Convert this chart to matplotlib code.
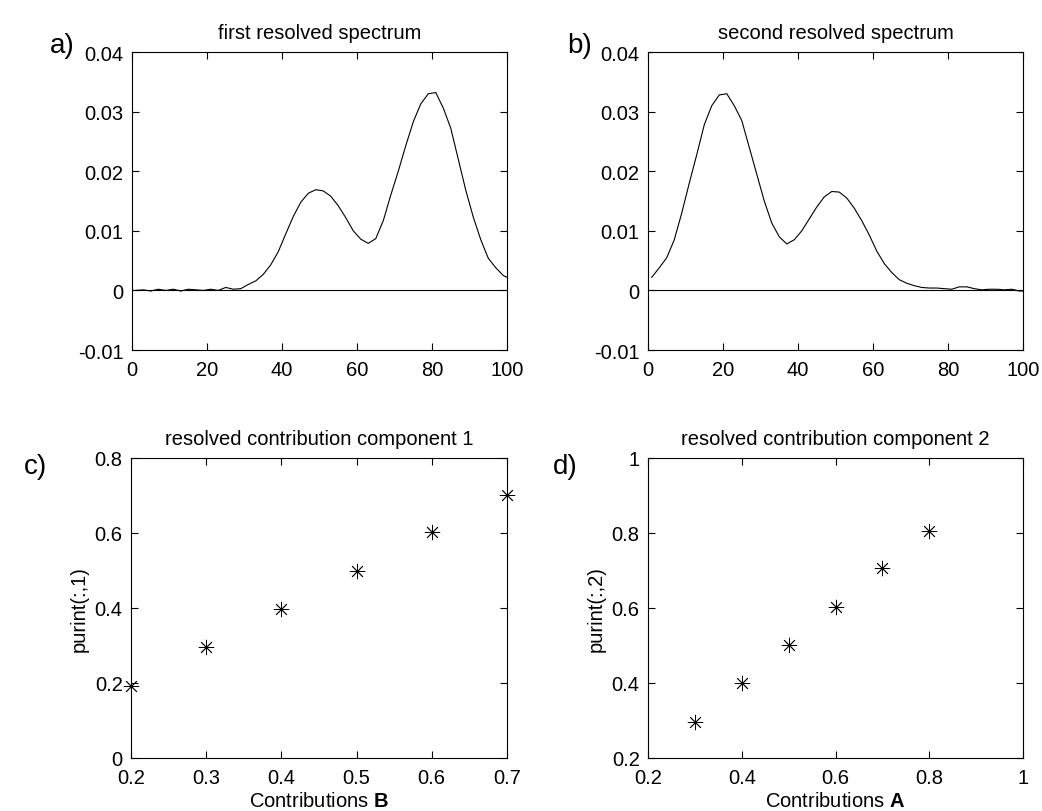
import matplotlib
matplotlib.use("Agg")
from matplotlib import rcParams, pyplot as plt

rcParams['font.family'] = ['Liberation Sans', 'DejaVu Sans']
rcParams['mathtext.fontset'] = 'custom'
rcParams['mathtext.rm'] = 'Liberation Sans'
rcParams['mathtext.bf'] = 'Liberation Sans:bold'

# spectra (channel index vs. intensity)
chan = [1, 3, 5, 7, 9, 11, 13, 15, 17, 19, 21, 23, 25, 27, 29, 31, 33, 35, 37, 39,
        41, 43, 45, 47, 49, 51, 53, 55, 57, 59, 61, 63, 65, 67, 69, 71, 73, 75, 77, 79,
        81, 83, 85, 87, 89, 91, 93, 95, 97, 99, 100]
spec1 = [0.0000, 0.0001, -0.0001, 0.0002, 0.0000, 0.0002, -0.0001, 0.0002, 0.0001, 0.0000,
         0.0002, 0.0000, 0.0005, 0.0002, 0.0003, 0.0010, 0.0016, 0.0027, 0.0043, 0.0065,
         0.0095, 0.0124, 0.0148, 0.0163, 0.0169, 0.0167, 0.0158, 0.0142, 0.0122, 0.0100,
         0.0086, 0.0079, 0.0087, 0.0117, 0.0160, 0.0200, 0.0243, 0.0283, 0.0313, 0.0330,
         0.0332, 0.0306, 0.0272, 0.0220, 0.0168, 0.0123, 0.0085, 0.0054, 0.0038, 0.0025,
         0.0022]
spec2 = [0.0022, 0.0038, 0.0055, 0.0085, 0.0130, 0.0180, 0.0228, 0.0278, 0.0310, 0.0328,
         0.0330, 0.0310, 0.0285, 0.0240, 0.0195, 0.0150, 0.0113, 0.0090, 0.0078, 0.0085,
         0.0100, 0.0120, 0.0140, 0.0157, 0.0166, 0.0165, 0.0155, 0.0138, 0.0117, 0.0093,
         0.0066, 0.0045, 0.0030, 0.0018, 0.0012, 0.0008, 0.0005, 0.0004, 0.0004, 0.0003,
         0.0002, 0.0006, 0.0006, 0.0003, 0.0001, 0.0002, 0.0002, 0.0001, 0.0002, -0.0001,
         -0.0001]

# resolved contributions
contrib_b = [0.2, 0.3, 0.4, 0.5, 0.6, 0.7]
purint_1 = [0.192, 0.296, 0.396, 0.498, 0.602, 0.700]
contrib_a = [0.3, 0.4, 0.5, 0.6, 0.7, 0.8]
purint_2 = [0.297, 0.400, 0.500, 0.603, 0.706, 0.804]

FS = 14.5

fig = plt.figure(figsize=(10.42, 8.12), dpi=100)

def matlab_axes(rect):
    ax = fig.add_axes(rect)
    ax.tick_params(direction='in', top=True, right=True, length=5, width=0.8,
                   labelsize=FS, pad=6)
    ax.tick_params(axis='x', pad=7)
    for s in ax.spines.values():
        s.set_linewidth(0.8)
    return ax

# a) first resolved spectrum
ax = matlab_axes([0.1267, 0.5677, 0.3599, 0.3670])
ax.plot(chan, spec1, color='black', lw=0.8)
ax.axhline(0, color='black', lw=0.8)
ax.set_xlim(0, 100)
ax.set_ylim(-0.01, 0.04)
ax.set_xticks([0, 20, 40, 60, 80, 100])
ax.set_yticks([-0.01, 0, 0.01, 0.02, 0.03, 0.04])
ax.set_yticklabels(['-0.01', '0', '0.01', '0.02', '0.03', '0.04'])
ax.set_title('first resolved spectrum', fontsize=FS, pad=10)

# b) second resolved spectrum
ax = matlab_axes([0.6219, 0.5677, 0.3599, 0.3670])
ax.plot(chan, spec2, color='black', lw=0.8)
ax.axhline(0, color='black', lw=0.8)
ax.set_xlim(0, 100)
ax.set_ylim(-0.01, 0.04)
ax.set_xticks([0, 20, 40, 60, 80, 100])
ax.set_yticks([-0.01, 0, 0.01, 0.02, 0.03, 0.04])
ax.set_yticklabels(['-0.01', '0', '0.01', '0.02', '0.03', '0.04'])
ax.set_title('second resolved spectrum', fontsize=FS, pad=10)

# c) contribution component 1
ax = matlab_axes([0.1257, 0.0653, 0.3608, 0.3695])
ax.plot(contrib_b, purint_1, ls='none', marker=(8, 2, 0), ms=11, mew=0.6,
        color='black', clip_on=False)
ax.set_xlim(0.2, 0.7)
ax.set_ylim(0, 0.8)
ax.set_xticks([0.2, 0.3, 0.4, 0.5, 0.6, 0.7])
ax.set_yticks([0, 0.2, 0.4, 0.6, 0.8])
ax.set_yticklabels(['0', '0.2', '0.4', '0.6', '0.8'])
ax.set_title('resolved contribution component 1', fontsize=FS, pad=10)
ax.set_xlabel(r'Contributions $\mathbf{B}$', fontsize=FS, labelpad=3)
ax.set_ylabel('purint(:,1)', fontsize=FS)

# d) contribution component 2
ax = matlab_axes([0.6219, 0.0653, 0.3599, 0.3695])
ax.plot(contrib_a, purint_2, ls='none', marker=(8, 2, 0), ms=11, mew=0.6,
        color='black', clip_on=False)
ax.set_xlim(0.2, 1)
ax.set_ylim(0.2, 1)
ax.set_xticks([0.2, 0.4, 0.6, 0.8, 1.0])
ax.set_xticklabels(['0.2', '0.4', '0.6', '0.8', '1'])
ax.set_yticks([0.2, 0.4, 0.6, 0.8, 1.0])
ax.set_yticklabels(['0.2', '0.4', '0.6', '0.8', '1'])
ax.set_title('resolved contribution component 2', fontsize=FS, pad=10)
ax.set_xlabel(r'Contributions $\mathbf{A}$', fontsize=FS, labelpad=3)
ax.set_ylabel('purint(:,2)', fontsize=FS)

# panel letters
for lab, x, y in [('a)', 50, 33), ('b)', 567, 33), ('c)', 24, 454), ('d)', 553, 454)]:
    fig.text(x / 1042, 1 - y / 812, lab, fontsize=20, ha='left', va='top')

plt.savefig('out.png', dpi=100)
plt.close()
